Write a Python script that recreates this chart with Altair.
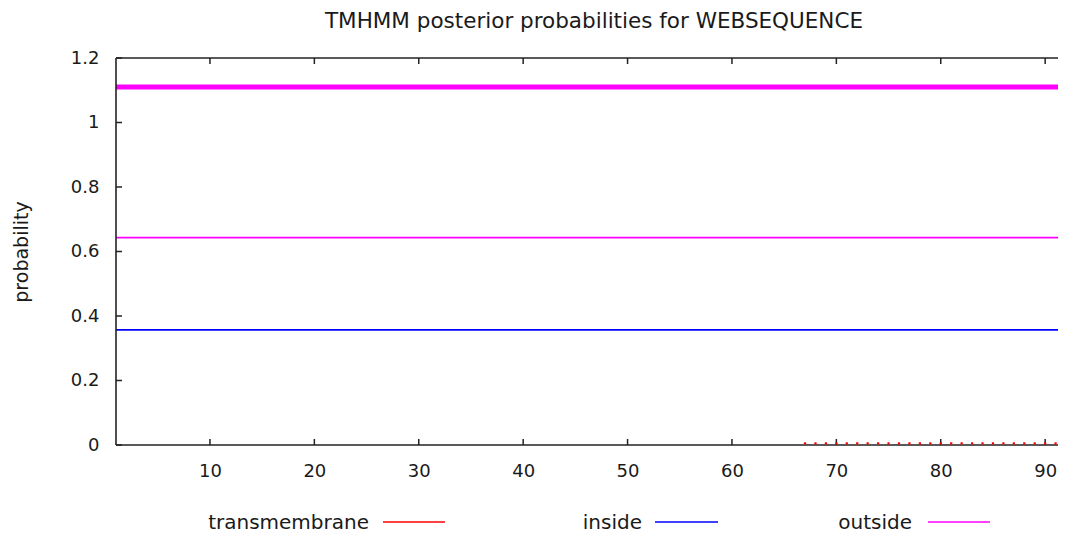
import altair as alt
import pandas as pd

# ---- data ----
x_range = [1, 92]
outside_band = [1.11, 1.11]
outside_prob = [0.643, 0.643]
inside_prob = [0.357, 0.357]
tm_x = [67, 68, 69, 70, 71, 72, 73, 74, 75, 76, 77, 78, 79, 80,
        81, 82, 83, 84, 85, 86, 87, 88, 89, 90, 91, 92]
tm_prob = [0.005] * len(tm_x)
x_ticks = [10, 20, 30, 40, 50, 60, 70, 80, 90]
y_ticks = [0, 0.2, 0.4, 0.6, 0.8, 1.0, 1.2]
legend_labels = ["transmembrane", "inside", "outside"]
legend_colors = ["#ff0000", "#0000ff", "#ff00ff"]
title_text = "TMHMM posterior probabilities for WEBSEQUENCE"

# ---- layout ----
W, H = 942, 387
FONT = "DejaVu Sans"
AX = "#222222"
TXT = "#1a1a1a"
X_VIEW_END = 91.23          # the reference is cropped at the right edge
legend_text_x = [253, 526, 796]
legend_line_x = [(267, 329), (539, 602), (812, 874)]
legend_text_y = 471
legend_line_y = 464

band_df = pd.DataFrame({"x": x_range, "y": outside_band})
prob_df = pd.DataFrame({
    "x": x_range + x_range,
    "y": inside_prob + outside_prob,
    "series": ["inside"] * 2 + ["outside"] * 2,
})
tm_df = pd.DataFrame({"x": tm_x, "y": tm_prob})
xt_df = pd.DataFrame({"t": x_ticks})
yt_df = pd.DataFrame({"t": y_ticks})
one = pd.DataFrame({"a": [0]})

x_scale = alt.Scale(domain=[1, X_VIEW_END], nice=False, zero=False)
y_scale = alt.Scale(domain=[0, 1.2], nice=False)
x_axis = alt.Axis(values=x_ticks, tickSize=0, domain=False, grid=False,
                  labelFont=FONT, labelFontSize=18, labelColor=TXT,
                  labelBaseline="alphabetic", labelPadding=31, title=None)
y_axis = alt.Axis(values=y_ticks, tickSize=0, domain=False, grid=False,
                  format="~g", labelFont=FONT, labelFontSize=18,
                  labelColor=TXT, labelPadding=17,
                  title="probability", titleFont=FONT, titleFontSize=19,
                  titleFontWeight="normal", titleColor=TXT,
                  titleAngle=-90, titleX=-95, titleY=H / 2,
                  titleAlign="center", titleBaseline="middle")

X = alt.X("x:Q", scale=x_scale, axis=x_axis)
Y = alt.Y("y:Q", scale=y_scale, axis=y_axis)

band = alt.Chart(band_df).mark_line(color="#ff00ff", strokeWidth=5, clip=True).encode(x=X, y=Y)
probs = alt.Chart(prob_df).mark_line(strokeWidth=1.6, clip=True).encode(
    x=X, y=Y,
    color=alt.Color("series:N", scale=alt.Scale(domain=["inside", "outside"],
                                                range=["#0000ff", "#ff00ff"]),
                    legend=None),
    detail="series:N",
)
tm = alt.Chart(tm_df).mark_square(size=5, color="#ff0000", opacity=1, clip=True).encode(x=X, y=Y)

XT = alt.X("t:Q", scale=x_scale, axis=x_axis)
YT = alt.Y("t:Q", scale=y_scale, axis=y_axis)
bottom_ticks = alt.Chart(xt_df).mark_rule(color=AX, strokeWidth=1.5).encode(
    x=XT, y=alt.value(H - 6), y2=alt.value(H))
top_ticks = alt.Chart(xt_df).mark_rule(color=AX, strokeWidth=1.5).encode(
    x=XT, y=alt.value(0), y2=alt.value(6))
left_ticks = alt.Chart(yt_df).mark_rule(color=AX, strokeWidth=1.5).encode(
    y=YT, x=alt.value(0), x2=alt.value(6))

# border (left, bottom, top; the right side is cropped in the reference)
border = [
    alt.Chart(one).mark_rule(color=AX, strokeWidth=1.6).encode(
        x=alt.value(0), y=alt.value(0), y2=alt.value(H)),
    alt.Chart(one).mark_rule(color=AX, strokeWidth=1.6).encode(
        x=alt.value(0), x2=alt.value(W), y=alt.value(H)),
    alt.Chart(one).mark_rule(color=AX, strokeWidth=1.6).encode(
        x=alt.value(0), x2=alt.value(W), y=alt.value(0)),
]

title = alt.Chart(one).mark_text(align="center", baseline="alphabetic",
                                 font=FONT, fontSize=21.5, color=TXT).encode(
    x=alt.value(478), y=alt.value(-30), text=alt.value(title_text))

legend_layers = []
for lab, col, tx, (lx1, lx2) in zip(legend_labels, legend_colors,
                                    legend_text_x, legend_line_x):
    legend_layers.append(
        alt.Chart(one).mark_text(align="right", baseline="alphabetic",
                                 font=FONT, fontSize=20, color=TXT).encode(
            x=alt.value(tx), y=alt.value(legend_text_y), text=alt.value(lab)))
    legend_layers.append(
        alt.Chart(one).mark_rule(color=col, strokeWidth=1.5).encode(
            x=alt.value(lx1), x2=alt.value(lx2), y=alt.value(legend_line_y)))

chart = alt.layer(band, probs, bottom_ticks, top_ticks, left_ticks,
                  *border, tm, title, *legend_layers).properties(
    width=W, height=H,
    autosize="none",
    padding={"left": 108, "top": 50, "right": 0, "bottom": 88},
).configure(background="white").configure_view(stroke=None)

chart.save("out.html", embed_options={"renderer": "svg", "actions": False})
